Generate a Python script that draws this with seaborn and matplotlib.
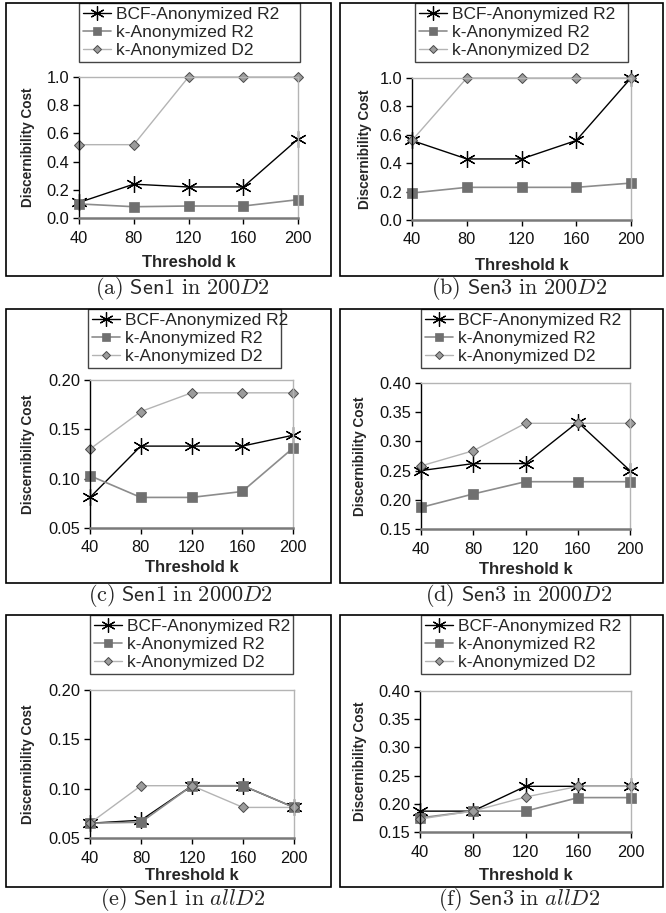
"""
Discernibility cost vs. threshold k, six panels (Sen1 / Sen3 on 200D2, 2000D2, allD2).
"""

import matplotlib
matplotlib.use("Agg")
import matplotlib.pyplot as plt
from matplotlib.patches import Rectangle
import seaborn as sns

# Data
thresholds = [40, 80, 120, 160, 200]
series_names = ["BCF-Anonymized R2", "k-Anonymized R2", "k-Anonymized D2"]

# (a) Sen1 in 200D2
bcf_a = [0.11, 0.24, 0.22, 0.22, 0.56]
kr2_a = [0.10, 0.08, 0.085, 0.085, 0.13]
kd2_a = [0.52, 0.52, 1.0, 1.0, 1.0]
# (b) Sen3 in 200D2
bcf_b = [0.56, 0.43, 0.43, 0.56, 1.0]
kr2_b = [0.19, 0.23, 0.23, 0.23, 0.26]
kd2_b = [0.56, 1.0, 1.0, 1.0, 1.0]
# (c) Sen1 in 2000D2
bcf_c = [0.081, 0.133, 0.133, 0.133, 0.144]
kr2_c = [0.103, 0.081, 0.081, 0.087, 0.131]
kd2_c = [0.130, 0.168, 0.187, 0.187, 0.187]
# (d) Sen3 in 2000D2
bcf_d = [0.250, 0.262, 0.262, 0.333, 0.250]
kr2_d = [0.187, 0.210, 0.231, 0.231, 0.231]
kd2_d = [0.258, 0.284, 0.331, 0.331, 0.331]
# (e) Sen1 in allD2
bcf_e = [0.065, 0.068, 0.103, 0.103, 0.081]
kr2_e = [0.065, 0.066, 0.103, 0.103, 0.081]
kd2_e = [0.065, 0.103, 0.103, 0.081, 0.081]
# (f) Sen3 in allD2
bcf_f = [0.187, 0.187, 0.231, 0.231, 0.231]
kr2_f = [0.175, 0.187, 0.187, 0.211, 0.211]
kd2_f = [0.173, 0.187, 0.212, 0.231, 0.231]

yticks_200 = [0.0, 0.2, 0.4, 0.6, 0.8, 1.0]
yticks_sen1 = [0.05, 0.10, 0.15, 0.20]
yticks_sen3 = [0.15, 0.20, 0.25, 0.30, 0.35, 0.40]

captions = [
    r"$\mathrm{(a)}\ \mathsf{Sen1}\ \mathrm{in}\ 200D2$",
    r"$\mathrm{(b)}\ \mathsf{Sen3}\ \mathrm{in}\ 200D2$",
    r"$\mathrm{(c)}\ \mathsf{Sen1}\ \mathrm{in}\ 2000D2$",
    r"$\mathrm{(d)}\ \mathsf{Sen3}\ \mathrm{in}\ 2000D2$",
    r"$\mathrm{(e)}\ \mathsf{Sen1}\ \mathrm{in}\ allD2$",
    r"$\mathrm{(f)}\ \mathsf{Sen3}\ \mathrm{in}\ allD2$",
]

sns.set_theme(style="white")
plt.rcParams["font.family"] = ["Liberation Sans", "DejaVu Sans"]
plt.rcParams["mathtext.fontset"] = "cm"

W, H = 666, 913
fig = plt.figure(figsize=(W / 100, H / 100), dpi=100)


def fig_rect(left, top, right, bottom):
    return [left / W, 1 - bottom / H, (right - left) / W, (bottom - top) / H]


styles = {
    "BCF-Anonymized R2": dict(color="black", marker=(6, 2, 0), markersize=12,
                              markeredgecolor="black", markeredgewidth=0.9, linewidth=1.0),
    "k-Anonymized R2": dict(color="#8c8c8c", marker="s", markersize=7,
                            markerfacecolor="#707070", markeredgecolor="#707070",
                            markeredgewidth=0.5, linewidth=1.2),
    "k-Anonymized D2": dict(color="#b4b4b4", marker="D", markersize=5,
                            markerfacecolor="#9c9c9c", markeredgecolor="#4a4a4a",
                            markeredgewidth=0.7, linewidth=1.0),
}

# pixel layout: axes box, legend box, frame box, xlabel y, ylabel x, caption centre
panels = [
    ((bcf_a, kr2_a, kd2_a), yticks_200, "%.1f",
     (79, 77, 298, 218), (79, 3, 300, 65), (6, 3, 331, 276), 262, 28, (182, 288)),
    ((bcf_b, kr2_b, kd2_b), yticks_200, "%.1f",
     (412, 78, 631, 220), (415, 3, 628, 65), (340, 3, 663, 276), 265, 365, (519, 288)),
    ((bcf_c, kr2_c, kd2_c), yticks_sen1, "%.2f",
     (90, 380, 293, 528), (88, 309, 281, 368), (6, 309, 331, 583), 568, 28, (180, 595)),
    ((bcf_d, kr2_d, kd2_d), yticks_sen3, "%.2f",
     (421, 383, 630, 529), (421, 309, 630, 371), (340, 309, 663, 583), 570, 360, (519, 595)),
    ((bcf_e, kr2_e, kd2_e), yticks_sen1, "%.2f",
     (90, 690, 294, 838), (90, 615, 293, 678), (6, 615, 331, 887), 875, 28, (183, 899)),
    ((bcf_f, kr2_f, kd2_f), yticks_sen3, "%.2f",
     (420, 691, 631, 832), (421, 615, 630, 678), (340, 615, 663, 887), 875, 360, (519, 899)),
]

for (values, yticks, fmt, axbox, legbox, frame, xlab_y, ylab_x, cap), caption in zip(panels, captions):
    ax = fig.add_axes(fig_rect(*axbox))
    for name, vals in zip(series_names, values):
        sns.lineplot(x=thresholds, y=vals, ax=ax, label=name, clip_on=False, **styles[name])

    ax.set_xlim(thresholds[0], thresholds[-1])
    ax.set_ylim(yticks[0], yticks[-1])
    ax.set_xticks(thresholds)
    ax.set_yticks(yticks)
    ax.set_yticklabels([fmt % t for t in yticks])
    ax.tick_params(bottom=True, left=True, direction="out", length=4, width=1,
                   color="black", labelsize=11.8, pad=3, labelcolor="#111111")
    ax.tick_params(axis="x", pad=5)

    ax.spines["left"].set_color("black")
    ax.spines["left"].set_linewidth(1.0)
    ax.spines["bottom"].set_color("#7a7a7a")
    ax.spines["bottom"].set_linewidth(1.8)
    for side in ("top", "right"):
        ax.spines[side].set_color("#b4b4b4")
        ax.spines[side].set_linewidth(1.0)

    ax_h = axbox[3] - axbox[1]
    ax_w = axbox[2] - axbox[0]
    ax.set_xlabel("Threshold k", fontsize=12, fontweight="bold", va="center")
    ax.xaxis.set_label_coords(0.5, -(xlab_y - axbox[3]) / ax_h)
    ax.set_ylabel("Discernibility Cost", fontsize=9.8, fontweight="bold", va="center")
    ax.yaxis.set_label_coords((ylab_x - axbox[0]) / ax_w, 0.5)

    lx0, ly0, lx1, ly1 = legbox
    leg = ax.legend(loc="upper left",
                    bbox_to_anchor=(lx0 / W, 1 - ly1 / H, (lx1 - lx0) / W, (ly1 - ly0) / H),
                    bbox_transform=fig.transFigure, mode="expand", borderaxespad=0,
                    fontsize=12.5, frameon=True, fancybox=False, framealpha=1,
                    edgecolor="#444444", borderpad=0.25, labelspacing=0.15,
                    handlelength=1.6, handletextpad=0.3, markerscale=0.85)
    leg.get_frame().set_linewidth(1.0)

    fx0, fy0, fx1, fy1 = frame
    fig.patches.append(Rectangle((fx0 / W, 1 - fy1 / H), (fx1 - fx0) / W, (fy1 - fy0) / H,
                                 transform=fig.transFigure, fill=False,
                                 edgecolor="black", linewidth=1.2))
    fig.text(cap[0] / W, 1 - cap[1] / H, caption, ha="center", va="center", fontsize=16)

fig.savefig("out.png", dpi=100)
